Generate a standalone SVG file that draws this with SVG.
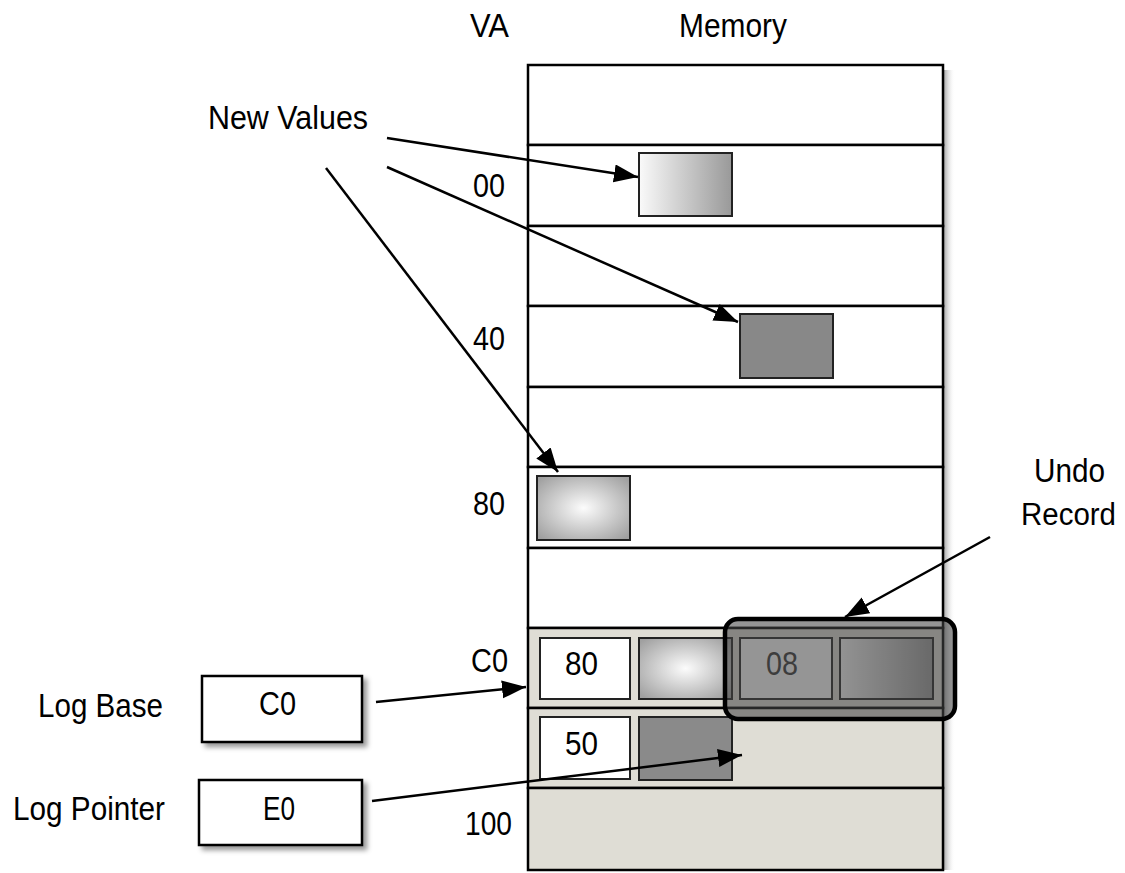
<svg xmlns="http://www.w3.org/2000/svg" width="1125" height="873" viewBox="0 0 1125 873">
<defs>
<style>
text{font-family:"Liberation Sans",Arial,sans-serif;font-size:33px;fill:#000;}
.row{fill:#fff;stroke:#000;stroke-width:2.5;}
.lrow{fill:#dfddd5;stroke:#000;stroke-width:2.5;}
.cell{stroke:#222;stroke-width:2;}
.conn{stroke:#000;stroke-width:2.5;fill:none;marker-end:url(#ah);}
</style>
<marker id="ah" markerUnits="userSpaceOnUse" markerWidth="26" markerHeight="20" refX="24" refY="9" orient="auto">
<path d="M0,0 L24,9 L0,18 Z" fill="#000"/>
</marker>
<linearGradient id="gH" x1="0" y1="0" x2="1" y2="0">
<stop offset="0" stop-color="#fafafa"/>
<stop offset="1" stop-color="#999"/>
</linearGradient>
<radialGradient id="gR" cx="0.5" cy="0.5" r="0.65">
<stop offset="0" stop-color="#fcfcfc"/>
<stop offset="1" stop-color="#a0a0a0"/>
</radialGradient>
<linearGradient id="gS" x1="0" y1="0" x2="1" y2="0">
<stop offset="0" stop-color="#555" stop-opacity="0.6"/>
<stop offset="1" stop-color="#fff" stop-opacity="0"/>
</linearGradient>
<filter id="sh" x="-10%" y="-10%" width="130%" height="140%">
<feDropShadow dx="4" dy="4" stdDeviation="2.5" flood-color="#000" flood-opacity="0.4"/>
</filter>
</defs>
<rect width="1125" height="873" fill="#fff"/>

<g id="headers">
<text x="470" y="37" textLength="39" lengthAdjust="spacingAndGlyphs">VA</text>
<text x="679" y="37" textLength="108" lengthAdjust="spacingAndGlyphs">Memory</text>
</g>

<g id="memory">
<rect x="943" y="70" width="12" height="800" fill="url(#gS)"/>
<rect class="row" x="528" y="65" width="415" height="80"/>
<rect class="row" x="528" y="145" width="415" height="81"/>
<rect class="row" x="528" y="226" width="415" height="80"/>
<rect class="row" x="528" y="306" width="415" height="81"/>
<rect class="row" x="528" y="387" width="415" height="80"/>
<rect class="row" x="528" y="467" width="415" height="81"/>
<rect class="row" x="528" y="548" width="415" height="80"/>
<rect class="lrow" x="528" y="628" width="415" height="80"/>
<rect class="lrow" x="528" y="708" width="415" height="80"/>
<rect class="lrow" x="528" y="788" width="415" height="82"/>
</g>

<g id="addresses">
<text x="473" y="197" textLength="32" lengthAdjust="spacingAndGlyphs">00</text>
<text x="473" y="350" textLength="32" lengthAdjust="spacingAndGlyphs">40</text>
<text x="473" y="515" textLength="32" lengthAdjust="spacingAndGlyphs">80</text>
<text x="471" y="672" textLength="37" lengthAdjust="spacingAndGlyphs">C0</text>
<text x="465" y="835" textLength="47" lengthAdjust="spacingAndGlyphs">100</text>
</g>

<g id="val00"><rect class="cell" x="639" y="153" width="93" height="63" fill="url(#gH)"/></g>
<g id="val40"><rect class="cell" x="740" y="314" width="93" height="64" fill="#888"/></g>
<g id="val80"><rect class="cell" x="537" y="476" width="93" height="64" fill="url(#gR)"/></g>

<g id="log-row1">
<rect class="cell" x="540" y="638" width="90" height="61" fill="#fff"/>
<text x="565" y="675" textLength="33" lengthAdjust="spacingAndGlyphs">80</text>
<rect class="cell" x="639" y="638" width="93" height="61" fill="url(#gR)"/>
<rect class="cell" x="740" y="638" width="92" height="61" fill="#fff"/>
<text x="766" y="675" textLength="32" lengthAdjust="spacingAndGlyphs" style="fill:#333">08</text>
<rect class="cell" x="840" y="638" width="93" height="61" fill="url(#gH)"/>
</g>
<g id="log-row2">
<rect class="cell" x="540" y="717" width="90" height="62" fill="#fff"/>
<text x="565" y="755" textLength="33" lengthAdjust="spacingAndGlyphs">50</text>
<rect class="cell" x="639" y="717" width="93" height="63" fill="#8a8a8a"/>
</g>

<g id="undo-record">
<rect x="725" y="619" width="230" height="100" rx="13" fill="#444" fill-opacity="0.57" stroke="#000" stroke-width="4.5"/>
</g>

<g id="log-base">
<text x="38" y="717" textLength="125" lengthAdjust="spacingAndGlyphs">Log Base</text>
<rect x="202" y="676" width="160" height="66" fill="#fff" stroke="#000" stroke-width="2.5" filter="url(#sh)"/>
<text x="259" y="715" textLength="37" lengthAdjust="spacingAndGlyphs">C0</text>
</g>
<g id="log-pointer">
<text x="13" y="820" textLength="152" lengthAdjust="spacingAndGlyphs">Log Pointer</text>
<rect x="199" y="780" width="163" height="65" fill="#fff" stroke="#000" stroke-width="2.5" filter="url(#sh)"/>
<text x="263" y="820" textLength="32" lengthAdjust="spacingAndGlyphs">E0</text>
</g>

<g id="new-values-label">
<text x="208" y="129" textLength="160" lengthAdjust="spacingAndGlyphs">New Values</text>
</g>
<g id="undo-label">
<text x="1034" y="482" textLength="71" lengthAdjust="spacingAndGlyphs">Undo</text>
<text x="1021" y="525" textLength="95" lengthAdjust="spacingAndGlyphs" style="font-size:31px">Record</text>
</g>

<g id="connectors">
<line class="conn" x1="387" y1="138" x2="638" y2="177"/>
<line class="conn" x1="387" y1="167" x2="738" y2="322"/>
<line class="conn" x1="326" y1="168" x2="558" y2="472"/>
<line class="conn" x1="990" y1="537" x2="845" y2="617"/>
<line class="conn" x1="376" y1="702" x2="526" y2="687"/>
<line class="conn" x1="372" y1="801" x2="742" y2="755"/>
</g>
</svg>
